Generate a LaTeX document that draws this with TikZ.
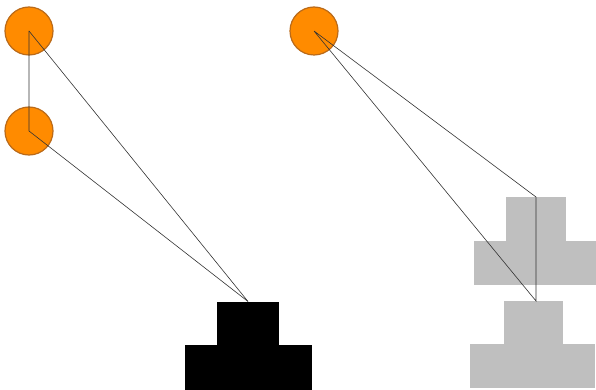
\documentclass[tikz,border=0pt]{standalone}
\begin{document}
\begin{tikzpicture}[x=1pt,y=-1pt,
  dot/.style={circle,draw=orange!70!black!90,fill=orange!85!yellow!95!red,line width=1.2pt,minimum size=48pt,inner sep=0pt},
  blk/.style={rectangle,fill=black,draw=none,inner sep=0pt,outer sep=0pt},
  gry/.style={rectangle,fill=black!25,draw=none,inner sep=0pt,outer sep=0pt},
  wire/.style={draw=black!80,line width=0.6pt}]
\useasboundingbox (0,0) rectangle (596,390);
\begin{scope}
\clip (0,0) rectangle (596,390);
% circles
\node[dot] (c1) at (29,31) {};
\node[dot] (c2) at (29,131) {};
\node[dot] (c3) at (314,31) {};
% black shape
\node[blk,minimum width=62pt,minimum height=44pt] (btop) at (248,323.5) {};
\node[blk,minimum width=127pt,minimum height=48pt] (bbot) at (248.5,369) {};
% gray upper shape
\node[gry,minimum width=60pt,minimum height=44pt] (gtop) at (536,219) {};
\node[gry,minimum width=124pt,minimum height=44pt] (gbot) at (536,263) {};
% gray lower shape
\node[gry,minimum width=59pt,minimum height=44pt] (ltop) at (533.5,322.5) {};
\node[gry,minimum width=125pt,minimum height=44pt] (lbot) at (532.5,366) {};
\coordinate (ga) at (536,197);
\coordinate (gb) at (536,301);
% wires
\draw[wire] (c1.center) -- (btop.north);
\draw[wire] (c1.center) -- (c2.center) -- (btop.north);
\draw[wire] (c3.center) -- (ga) -- (gb) -- (c3.center);
\end{scope}
\end{tikzpicture}
\end{document}
